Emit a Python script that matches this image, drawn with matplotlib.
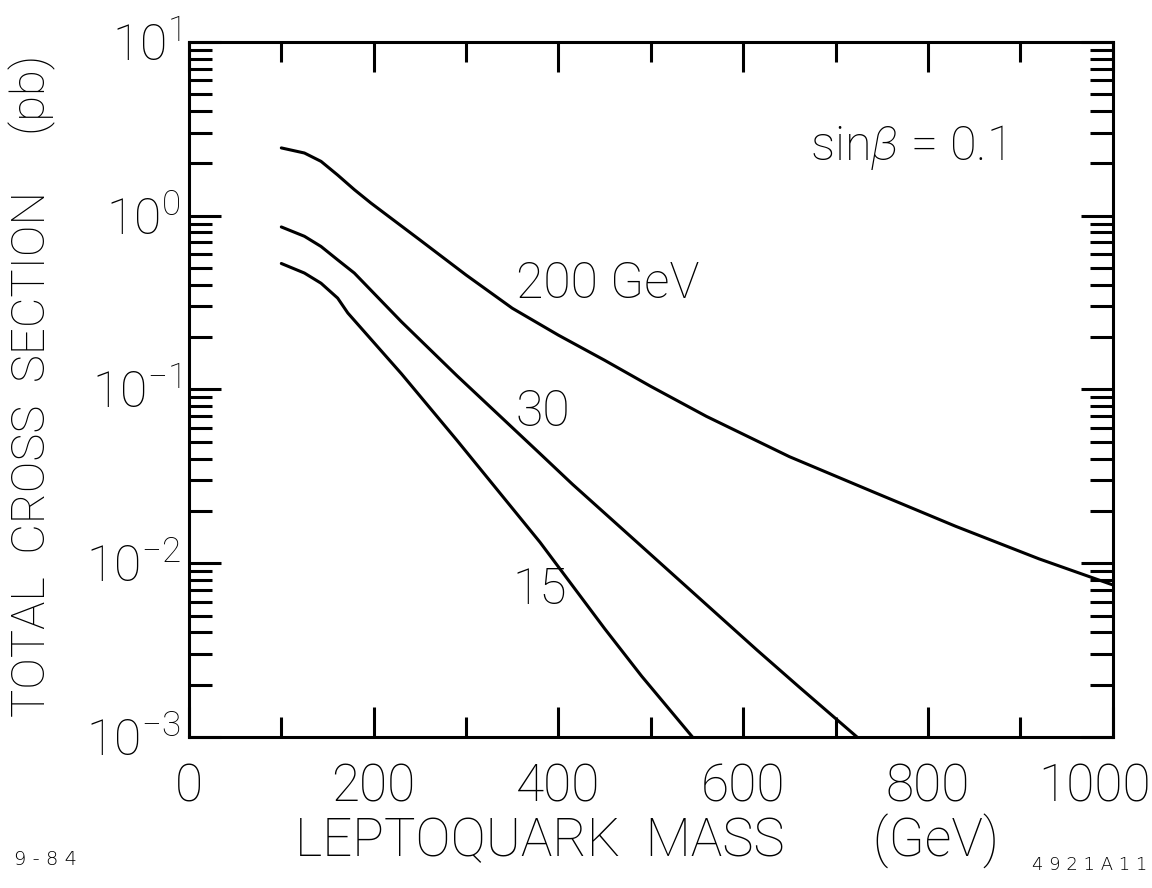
import matplotlib
matplotlib.use("Agg")
import matplotlib.pyplot as plt
from matplotlib.ticker import LogLocator, NullFormatter, FixedLocator
from matplotlib.transforms import ScaledTranslation

plt.rcParams['font.family'] = ['Roboto', 'DejaVu Sans']
plt.rcParams['font.weight'] = 'light'
plt.rcParams['mathtext.fontset'] = 'custom'
plt.rcParams['mathtext.rm'] = 'Roboto:light'
plt.rcParams['mathtext.it'] = 'Roboto:light:italic'

# leptoquark mass (GeV) and total cross section (pb) for three masses
mass_200 = [100, 125, 143, 161, 179, 197, 250, 300, 350, 400, 450, 500, 560,
            650, 740, 830, 920, 1000]
sigma_200 = [2.45, 2.29, 2.05, 1.71, 1.41, 1.18, 0.724, 0.455, 0.293, 0.205,
             0.147, 0.104, 0.070, 0.041, 0.0258, 0.0163, 0.0106, 0.0075]

mass_30 = [100, 125, 143, 161, 179, 230, 290, 340, 380, 415, 500, 550, 615,
           660, 730]
sigma_30 = [0.86, 0.76, 0.664, 0.556, 0.467, 0.245, 0.120, 0.0676, 0.0427,
            0.0285, 0.0112, 0.00646, 0.00316, 0.00195, 0.00093]

mass_15 = [100, 125, 143, 161, 172, 230, 290, 380, 450, 490, 550]
sigma_15 = [0.53, 0.467, 0.408, 0.335, 0.275, 0.123, 0.051, 0.0132, 0.0042,
            0.00224, 0.00093]

curve_labels = ['200 GeV', '30', '15']
label_pos = [(354, 0.40), (354, 0.074), (350, 0.0070)]

xtick_vals = [0, 200, 400, 600, 800, 1000]
ytick_vals = [1e-3, 1e-2, 1e-1, 1e0, 1e1]
ytick_text = [r'$10^{-3}$', r'$10^{-2}$', r'$10^{-1}$', r'$10^{0}$', r'$10^{1}$']

fig = plt.figure(figsize=(11.52, 8.88), dpi=100)
ax = fig.add_axes([0.164, 0.170, 0.802, 0.783])

lw = 2.2
for xs, ys in [(mass_200, sigma_200), (mass_30, sigma_30), (mass_15, sigma_15)]:
    ax.plot(xs, ys, color='black', lw=lw, solid_capstyle='round',
            solid_joinstyle='round')

ax.set_yscale('log')
ax.set_xlim(0, 1000)
ax.set_ylim(1e-3, 1e1)

for s in ax.spines.values():
    s.set_linewidth(lw)

ax.set_xticks(xtick_vals)
ax.set_xticklabels([str(v) for v in xtick_vals])
ax.xaxis.set_minor_locator(FixedLocator([100, 300, 500, 700, 900]))
ax.set_yticks(ytick_vals)
ax.set_yticklabels(ytick_text)
ax.yaxis.set_minor_locator(LogLocator(base=10, subs=range(2, 10), numticks=20))
ax.yaxis.set_minor_formatter(NullFormatter())

ax.tick_params(axis='both', which='both', direction='in', top=True, right=True,
               width=lw, colors='black')
ax.tick_params(axis='x', which='major', length=21.5, labelsize=37, pad=18)
ax.tick_params(axis='x', which='minor', length=14.5)
ax.tick_params(axis='y', which='major', length=23, labelsize=36, pad=6)
ax.tick_params(axis='y', which='minor', length=16.5)

# pull the last x label in a little so it stays on the page
last = ax.get_xticklabels()[-1]
last.set_transform(last.get_transform() + ScaledTranslation(-0.18, 0, fig.dpi_scale_trans))

for txt, (x, y) in zip(curve_labels, label_pos):
    ax.text(x, y, txt, fontsize=36, ha='left', va='center')

ax.text(672, 2.45, r'sin$\it{\beta}$ = 0.1', fontsize=35, ha='left', va='center')

fig.text(0.028, 0.565, 'TOTAL  CROSS  SECTION     (pb)', rotation=90,
         fontsize=34, ha='center', va='center')
fig.text(0.562, 0.052, 'LEPTOQUARK  MASS       (GeV)', fontsize=38,
         ha='center', va='center')
fig.text(0.012, 0.032, '9 - 8 4', fontsize=14, family='DejaVu Sans',
         ha='left', va='center')
fig.text(0.996, 0.026, '4 9 2 1 A 1 1', fontsize=13, family='DejaVu Sans',
         ha='right', va='center')

fig.savefig('out.png', dpi=100, facecolor='white')
